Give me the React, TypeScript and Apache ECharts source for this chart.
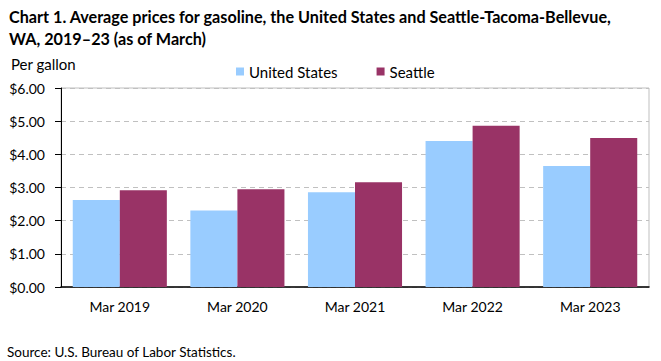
import React, { useEffect, useRef } from "react";
import * as echarts from "echarts";

const categories = ["Mar 2019", "Mar 2020", "Mar 2021", "Mar 2022", "Mar 2023"];
const usValues = [2.62, 2.31, 2.86, 4.4, 3.65];
const seattleValues = [2.92, 2.95, 3.16, 4.86, 4.49];
const seriesNames = ["United States", "Seattle"];

const FONT = "Lato, 'Open Sans', sans-serif";

export default function App() {
  const ref = useRef<HTMLDivElement>(null);
  useEffect(() => {
    if (!ref.current) return;
    const chart = echarts.init(ref.current, null, { renderer: "svg" });
    chart.setOption({
      animation: false,
      textStyle: { fontFamily: FONT },
      title: [
        {
          text: "Chart 1. Average prices for gasoline, the United States and Seattle-Tacoma-Bellevue,\nWA, 2019–23 (as of March)",
          left: 4,
          top: 0,
          textStyle: { fontFamily: FONT, fontSize: 16.2, fontWeight: "bold", color: "#000", lineHeight: 22 },
        },
        {
          text: "Per gallon",
          left: 6,
          top: 51,
          textStyle: { fontFamily: FONT, fontSize: 15, fontWeight: "normal", color: "#000" },
        },
        {
          text: "Source: U.S. Bureau of Labor Statistics.",
          left: 2,
          top: 340,
          textStyle: { fontFamily: FONT, fontSize: 13.5, fontWeight: "normal", color: "#000" },
        },
      ],
      legend: {
        top: 59,
        left: 231,
        itemWidth: 8,
        itemHeight: 8,
        itemGap: 39,
        icon: "rect",
        textStyle: { fontFamily: FONT, fontSize: 15, color: "#000", padding: [0, 0, 0, 0] },
        data: seriesNames,
      },
      grid: {
        left: 61,
        right: 12,
        top: 88,
        bottom: 74,
        show: true,
        borderColor: "#bfbfbf",
        borderWidth: 1,
        containLabel: false,
      },
      xAxis: {
        type: "category",
        data: categories,
        axisLine: { lineStyle: { color: "#000", width: 1.5 } },
        axisTick: { show: false },
        axisLabel: { color: "#000", fontSize: 14, fontFamily: FONT, margin: 12 },
      },
      yAxis: {
        type: "value",
        min: 0,
        max: 6,
        interval: 1,
        axisLine: { show: true, lineStyle: { color: "#000", width: 1 } },
        axisTick: { show: true, length: 6, inside: false, lineStyle: { color: "#000" } },
        axisLabel: {
          color: "#000",
          fontSize: 14,
          fontFamily: FONT,
          margin: 16,
          formatter: (v: number) => "$" + v.toFixed(2),
        },
        splitLine: { lineStyle: { color: "#c0c0c0", type: [5, 4], width: 1 } },
      },
      series: [
        {
          name: seriesNames[0],
          type: "bar",
          data: usValues,
          itemStyle: { color: "#99CCFF" },
          barGap: "0%",
          barCategoryGap: "20%",
        },
        {
          name: seriesNames[1],
          type: "bar",
          data: seattleValues,
          itemStyle: { color: "#993366" },
          barGap: "0%",
          barCategoryGap: "20%",
        },
      ],
    });
    return () => chart.dispose();
  }, []);
  return <div ref={ref} style={{ width: 661, height: 361, position: "absolute", left: 0, top: 0 }} />;
}
